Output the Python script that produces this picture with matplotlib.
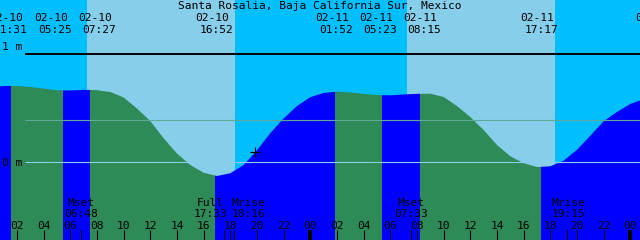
import matplotlib
matplotlib.use("Agg")
import matplotlib.pyplot as plt
import numpy as np

# ---------------- data ----------------
title = "Santa Rosalia, Baja California Sur, Mexico"

# hourly tide level (m), hours counted from 02-10 00:00
hours = list(range(0, 50))
height_m = [0.697, 0.706, 0.708, 0.697, 0.683, 0.667, 0.665, 0.671, 0.668, 0.651,
            0.600, 0.498, 0.382, 0.222, 0.081, -0.025, -0.097, -0.127, -0.101, -0.025,
            0.111, 0.271, 0.406, 0.521, 0.603, 0.642, 0.654, 0.647, 0.634, 0.623,
            0.620, 0.628, 0.634, 0.635, 0.605, 0.521, 0.419, 0.299, 0.160, 0.056,
            -0.008, -0.044, -0.037, 0.015, 0.116, 0.246, 0.380, 0.466, 0.540, 0.586]

tide_dates = ["02-10", "02-10", "02-10", "02-10", "02-11", "02-11", "02-11", "02-11"]
tide_times = ["01:31", "05:25", "07:27", "16:52", "01:52", "05:23", "08:15", "17:17"]
tide_kind = ["H", "L", "H", "L", "H", "L", "H", "L"]

sun_day = [0, 0, 1, 1]
sun_time = ["07:15", "18:21", "07:15", "18:21"]
sun_kind = ["rise", "set", "rise", "set"]

moon_name = ["Mset", "Full", "Mrise", "Mset", "Mrise"]
moon_time = ["06:48", "17:33", "18:16", "07:33", "19:15"]
moon_day = [0, 0, 0, 1, 1]

hour_labels = ["02", "04", "06", "08", "10", "12", "14", "16", "18", "20", "22", "00"] * 2
hour_ticks = list(range(2, 49, 2))

msl_m = 0.389
now_hour, now_m = 19.85, 0.098

# ---------------- layout ----------------
W, H = 640, 240
T0 = 0.725
PXH = W / 48.0
Y0PX, PXM = 162.3, 108.0

def hh(s, day=0):
    a, b = s.split(":")
    return day * 24 + int(a) + int(b) / 60.0

def fy(ypx):
    return 1 - ypx / H

NIGHT = "#00BFFF"
DAY = "#87CEEB"
RISE = "#0000FF"
FALL = "#2E8B57"
MSLC = "#5FA89C"
DATUMC = "#8AD0EE"

fig = plt.figure(figsize=(W / 100, H / 100), dpi=100)
ax = fig.add_axes([0, 0, 1, 1])
ax.set_xlim(T0, T0 + 48)
ax.set_ylim((Y0PX - H) / PXM, Y0PX / PXM)
ax.axis("off")

# sky
sun_h = [hh(t, d) for t, d in zip(sun_time, sun_day)]
edges = [T0 - 1] + sun_h + [T0 + 49]
for i in range(len(edges) - 1):
    c = NIGHT if i % 2 == 0 else DAY
    ax.axvspan(edges[i], edges[i + 1], color=c, lw=0, zorder=0)

# water under the curve, coloured by rising/falling
ybot = (Y0PX - H - 10) / PXM
poly = ax.fill_between(hours, ybot, height_m, facecolor="none", edgecolor="none", zorder=1)
clip = poly.get_paths()[0]
ev_h = [hh(t, 0 if d == "02-10" else 1) for t, d in zip(tide_times, tide_dates)]
bounds = [T0 - 1] + ev_h + [T0 + 49]
for i in range(len(bounds) - 1):
    nxt = tide_kind[i] if i < len(tide_kind) else ("H" if tide_kind[-1] == "L" else "L")
    c = RISE if nxt == "H" else FALL
    sp = ax.axvspan(bounds[i], bounds[i + 1], color=c, lw=0, zorder=2)
    sp.set_clip_path(clip, ax.transData)

# reference lines
xs = T0 + 25 / PXH
ax.hlines(1.0, xs, T0 + 48, color="black", lw=1.4, zorder=3)
ax.hlines(msl_m, xs, T0 + 48, color=MSLC, lw=0.8, zorder=3)
ax.hlines(0.0, xs, T0 + 48, color=DATUMC, lw=0.8, zorder=3)
ax.plot([now_hour], [now_m], marker="+", color="black", ms=6.5, mew=0.8, zorder=4)

FONT = dict(family="DejaVu Sans Mono", size=8.1, color="black")

fig.text(319.5 / W, fy(9.3), title, ha="center", va="baseline", **FONT)
ax.text(T0 + 12 / PXH, 1.0 + 4.3 / PXM, "1 m", ha="center", va="baseline",
        transform=ax.transData, **FONT)
ax.text(T0 + 12 / PXH, 0.0 - 4.0 / PXM, "0 m", ha="center", va="baseline",
        transform=ax.transData, **FONT)

# top tide labels
date_cx = [6, 51, 95, 212, 332, 376, 420, 537]
for d, t, cx in zip(tide_dates, tide_times, date_cx):
    fig.text(cx / W, fy(20.7), d, ha="center", va="baseline", **FONT)
    fig.text((cx + 4) / W, fy(33.3), t, ha="center", va="baseline", **FONT)
fig.text(635 / W, fy(20.7), "02-12", ha="left", va="baseline", **FONT)

# bottom ticks and labels
xt = ax.get_xaxis_transform()
ax.vlines(hour_ticks, 0, 10 / H, color="black", lw=0.8, transform=xt, zorder=5)
ax.vlines([24, 48], 0, 10 / H, color="black", lw=2.8, transform=xt, zorder=5)
for hl, ht in zip(hour_labels, hour_ticks):
    ax.text(ht, fy(229.3), hl, ha="center", va="baseline", transform=xt, **FONT)

moon_h = [hh(t, d) for t, d in zip(moon_time, moon_day)]
ax.vlines(moon_h, 0, 10 / H, color="black", lw=0.8, transform=xt, zorder=5)
moon_cx = [81.5, 210, 248, 411.5, 568]
for n, t, cx in zip(moon_name, moon_time, moon_cx):
    fig.text(cx / W, fy(206), n, ha="center", va="baseline", **FONT)
    fig.text(cx / W, fy(217), t, ha="center", va="baseline", **FONT)

fig.savefig("out.png", dpi=100)
